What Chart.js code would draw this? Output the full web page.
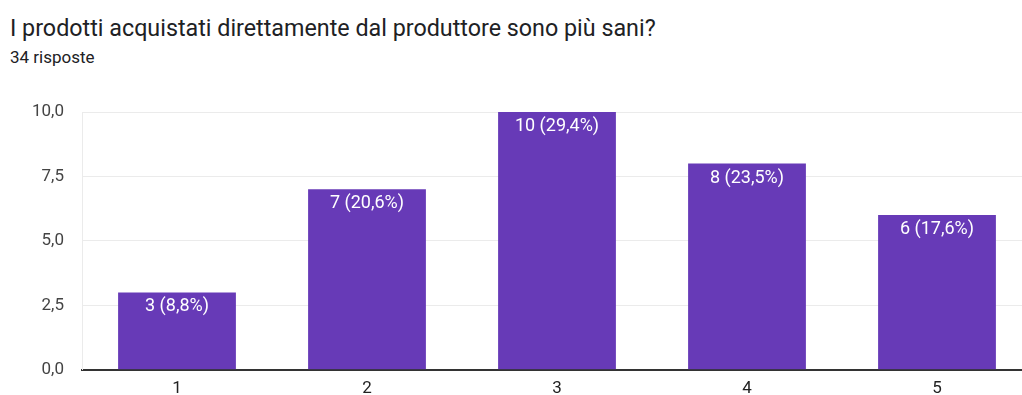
<!DOCTYPE html>
<html lang="it">
<head>
<meta charset="utf-8">
<title>I prodotti acquistati direttamente dal produttore sono più sani?</title>
<script src="https://cdn.jsdelivr.net/npm/chart.js@4/dist/chart.umd.min.js"></script>
<style>
  html, body { margin: 0; padding: 0; background: #fff; overflow: hidden; }
  body { width: 1022px; height: 395px; position: relative; font-family: Roboto, "Noto Sans", sans-serif; }
  #title { position: absolute; left: 10px; top: 14px; font-size: 23.3px; line-height: normal; color: #202124; white-space: nowrap; }
  #subtitle { position: absolute; left: 10px; top: 47px; font-size: 17px; line-height: normal; color: #202124; white-space: nowrap; }
  #wrap { position: absolute; left: 0; top: 0; width: 1040px; height: 398px; }
</style>
</head>
<body>
<div id="title">I prodotti acquistati direttamente dal produttore sono più sani?</div>
<div id="subtitle">34 risposte</div>
<div id="wrap"><canvas id="chart" width="1040" height="398"></canvas></div>
<script>
// Scale answers 1–5 and how many respondents picked each
const categories = ["1", "2", "3", "4", "5"];
const counts = [3, 7, 10, 8, 6];
const yTicks = [0, 2.5, 5, 7.5, 10];

const total = counts.reduce((a, b) => a + b, 0);
const fmt1 = v => v.toFixed(1).replace(".", ",");

// Writes "count (percent%)" just inside the top of each bar
const barLabels = {
  id: "barLabels",
  afterDatasetsDraw(chart) {
    const ctx = chart.ctx;
    const meta = chart.getDatasetMeta(0);
    ctx.save();
    ctx.font = "18px Roboto, 'Noto Sans', sans-serif";
    ctx.fillStyle = "#ffffff";
    ctx.textAlign = "center";
    ctx.textBaseline = "alphabetic";
    meta.data.forEach((bar, i) => {
      const v = counts[i];
      const txt = v + " (" + fmt1(v / total * 100) + "%)";
      ctx.fillText(txt, bar.x, bar.y + 19);
    });
    ctx.restore();
  }
};

new Chart(document.getElementById("chart"), {
  type: "bar",
  data: {
    labels: categories,
    datasets: [{
      data: counts,
      backgroundColor: "#673ab7",
      borderWidth: 0,
      barPercentage: 0.62,
      categoryPercentage: 1.0
    }]
  },
  options: {
    responsive: false,
    animation: false,
    layout: { padding: { top: 112, right: 8, bottom: 0, left: 0 } },
    plugins: {
      legend: { display: false },
      tooltip: { enabled: false }
    },
    scales: {
      x: {
        grid: { display: false, drawTicks: false },
        border: { display: true, color: "#333333", width: 2 },
        ticks: {
          color: "#222222",
          font: { family: "Roboto", size: 17 },
          padding: 9
        },
        afterFit(s) { s.height = 25; }
      },
      y: {
        min: 0,
        max: 10,
        afterBuildTicks(s) { s.ticks = yTicks.map(v => ({ value: v })); },
        grid: { color: "#ebebeb", lineWidth: 1, drawTicks: false },
        border: { display: true, color: "#ebebeb", width: 1 },
        ticks: {
          color: "#444444",
          font: { family: "Roboto", size: 17 },
          padding: 18,
          callback: v => fmt1(v)
        },
        afterFit(s) { s.width = 82; }
      }
    }
  },
  plugins: [barLabels]
});
</script>
</body>
</html>
